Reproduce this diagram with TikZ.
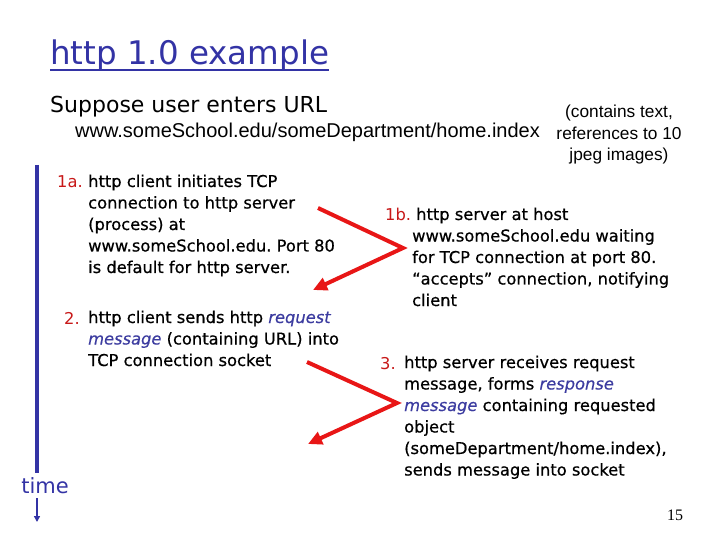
\documentclass[tikz,border=0pt]{standalone}
\usepackage{fontspec}
\usepackage{array}
\setmainfont{DejaVu Sans}
\newfontfamily\comicf{DejaVu Sans}
\newfontfamily\comicb[UprightFeatures={FakeBold=0.6},ItalicFeatures={FakeBold=0.3}]{DejaVu Sans}
\newfontfamily\arialf{Liberation Sans}
\newfontfamily\seriff{Liberation Serif}
\usetikzlibrary{arrows.meta}
\definecolor{titleblue}{RGB}{51,51,165}
\definecolor{itblue}{RGB}{60,60,160}
\definecolor{numred}{RGB}{200,25,25}
\definecolor{arrred}{RGB}{232,22,22}
\newcommand{\itbl}[1]{{\itshape\color{itblue}#1}}
\tikzset{
  txt/.style={inner sep=0pt, anchor=base west, align=left},
  body/.style={txt, font=\comicb\frenchspacing\fontsize{16.3}{21.5}\selectfont},
  num/.style={txt, text=numred, font=\comicf\fontsize{16.3}{21.5}\selectfont},
  redarrow/.style={draw=arrred, line width=4pt, line join=miter, -{Triangle[length=14pt,width=13pt]}},
}
\begin{document}
\begin{tikzpicture}[x=1pt,y=-1pt]
\useasboundingbox (0,0) rectangle (720,540);
\fill[white] (0,0) rectangle (720,540);

% title
\node[txt, text=titleblue, font=\comicf\fontsize{32.5}{36}\selectfont] (title) at (50,65) {http 1.0 example};
\draw[titleblue, line width=2pt] ([yshift=-5pt]title.base west) -- ([yshift=-5pt]title.base east);

\node[txt, font=\comicf\fontsize{22}{26}\selectfont] (suppose) at (50,113) {Suppose user enters URL};
\node[txt, font=\arialf\fontsize{20}{24}\selectfont] (url) at (75,138) {www.someSchool.edu/someDepartment/home.index};
\node[inner sep=0pt, anchor=base, font=\arialf\fontsize{17.3}{21.5}\selectfont] (contains) at (619,118)
  {\begin{tabular}[t]{@{}c@{}}(contains text,\\ references to 10\\ jpeg images)\end{tabular}};

% 1a
\node[num] (n1a) at (57,188) {1a.};
\node[body] (t1a) at (88,187) {\begin{tabular}[t]{@{}l@{}}http client initiates TCP\\ connection to http server\\ (process) at\\ www.someSchool.edu. Port 80\\ is default for http server.\end{tabular}};

% 2
\node[num] (n2) at (64,324) {2.};
\node[body] (t2) at (88,323) {\begin{tabular}[t]{@{}l@{}}http client sends http \itbl{request}\\ \itbl{message} (containing URL) into\\ TCP connection socket\end{tabular}};

% 1b
\node[num] (n1b) at (385,221) {1b.};
\node[body] (t1b) at (412,220) {\begin{tabular}[t]{@{}l@{}}\hspace{4pt}http server at host\\ www.someSchool.edu waiting\\ for TCP connection at port 80.\\ “accepts” connection, notifying\\ client\end{tabular}};

% 3
\node[num] (n3) at (380,369) {3.};
\node[body] (t3) at (404,368) {\begin{tabular}[t]{@{}l@{}}http server receives request\\ message, forms \itbl{response}\\ \itbl{message} containing requested\\ object\\ (someDepartment/home.index),\\ sends message into socket\end{tabular}};

% red arrows
\coordinate (a1s) at (318,208);
\coordinate (a1v) at (403,248);
\coordinate (a1e) at (313,290);
\draw[redarrow] (a1s) -- (a1v) -- (a1e);
\coordinate (a2s) at (307,362);
\coordinate (a2v) at (397,403);
\coordinate (a2e) at (308,444);
\draw[redarrow] (a2s) -- (a2v) -- (a2e);

% time axis
\coordinate (tl1) at (37,165);
\coordinate (tl2) at (37,473);
\draw[titleblue, line width=4pt] (tl1) -- (tl2);
\node[inner sep=0pt, anchor=base, text=titleblue, font=\comicf\fontsize{21}{25}\selectfont] (time) at (45,493) {time};
\coordinate (ta1) at (37,498);
\coordinate (ta2) at (37,522);
\draw[titleblue, line width=2pt, -{Triangle[length=6pt,width=6pt]}] (ta1) -- (ta2);

\node[txt, font=\seriff\fontsize{16}{19}\selectfont] (page) at (667,520) {15};
\end{tikzpicture}
\end{document}
